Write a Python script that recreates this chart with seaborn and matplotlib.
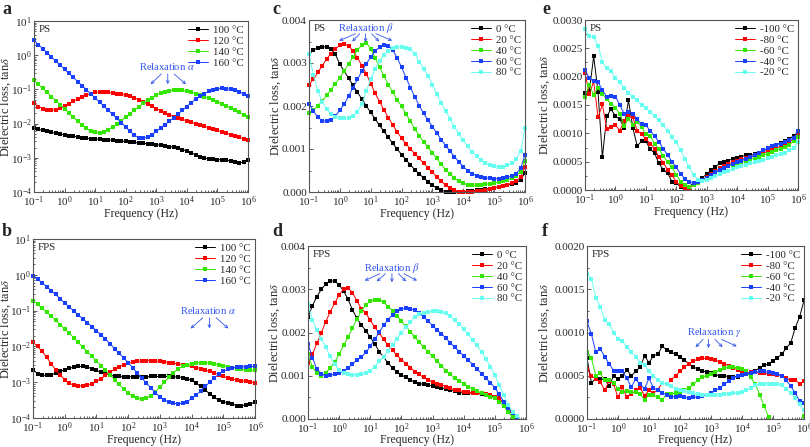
import numpy as np
import matplotlib
matplotlib.use("Agg")
import matplotlib.pyplot as plt
import seaborn as sns
from matplotlib.ticker import LogLocator, NullFormatter, FixedLocator, FormatStrFormatter, AutoMinorLocator

sns.set_style("ticks")
plt.rcParams['font.family'] = ['Liberation Serif', 'DejaVu Serif']
plt.rcParams['mathtext.fontset'] = 'stix'

# frequency grid (Hz): 7 points per decade, 0.1 Hz .. 1 MHz
freq = np.logspace(-1, 6, 50)

# ---------------- panel a : PS, log10(tan d) ----------------
a_labels = ['100 °C', '120 °C', '140 °C', '160 °C']
a_100 = [-2.14, -2.17, -2.20, -2.23, -2.26, -2.28, -2.31, -2.33, -2.35, -2.37,
         -2.39, -2.41, -2.43, -2.44, -2.45, -2.46, -2.47, -2.48, -2.49, -2.50,
         -2.51, -2.52, -2.53, -2.55, -2.57, -2.58, -2.59, -2.60, -2.62, -2.63,
         -2.65, -2.67, -2.69, -2.72, -2.76, -2.80, -2.85, -2.91, -2.97, -3.01,
         -3.03, -3.04, -3.05, -3.06, -3.07, -3.09, -3.12, -3.14, -3.13, -3.06]
a_120 = [-1.41, -1.50, -1.56, -1.59, -1.60, -1.59, -1.55, -1.49, -1.42, -1.35,
         -1.28, -1.21, -1.16, -1.12, -1.09, -1.08, -1.08, -1.09, -1.10, -1.12,
         -1.14, -1.17, -1.20, -1.25, -1.30, -1.36, -1.43, -1.49, -1.56, -1.62,
         -1.68, -1.74, -1.80, -1.84, -1.88, -1.92, -1.96, -2.00, -2.04, -2.08,
         -2.12, -2.16, -2.20, -2.24, -2.28, -2.32, -2.36, -2.40, -2.44, -2.48]
a_140 = [-0.73, -0.85, -0.97, -1.09, -1.21, -1.33, -1.45, -1.57, -1.69, -1.81,
         -1.93, -2.04, -2.14, -2.22, -2.26, -2.27, -2.24, -2.18, -2.10, -2.01,
         -1.91, -1.81, -1.71, -1.61, -1.50, -1.41, -1.32, -1.24, -1.17, -1.11,
         -1.07, -1.04, -1.02, -1.02, -1.03, -1.05, -1.08, -1.12, -1.16, -1.21,
         -1.26, -1.31, -1.36, -1.42, -1.48, -1.54, -1.60, -1.67, -1.74, -1.82]
a_160 = [0.43, 0.31, 0.19, 0.07, -0.05, -0.17, -0.29, -0.41, -0.53, -0.65,
         -0.77, -0.89, -1.01, -1.13, -1.25, -1.37, -1.49, -1.61, -1.73, -1.85,
         -1.97, -2.10, -2.23, -2.34, -2.41, -2.43, -2.39, -2.32, -2.23, -2.13,
         -2.03, -1.93, -1.83, -1.72, -1.61, -1.50, -1.39, -1.29, -1.20, -1.12,
         -1.06, -1.01, -0.98, -0.97, -0.98, -1.00, -1.03, -1.07, -1.12, -1.18]

# ---------------- panel b : FPS, log10(tan d) ----------------
b_labels = ['100 °C', '120 °C', '140 °C', '160 °C']
b_100 = [-2.66, -2.76, -2.80, -2.81, -2.79, -2.75, -2.70, -2.65, -2.61, -2.58,
         -2.56, -2.56, -2.58, -2.62, -2.67, -2.72, -2.77, -2.80, -2.83, -2.84,
         -2.85, -2.85, -2.85, -2.85, -2.85, -2.85, -2.84, -2.84, -2.84, -2.84,
         -2.84, -2.85, -2.85, -2.87, -2.90, -2.95, -3.03, -3.12, -3.22, -3.32,
         -3.42, -3.50, -3.55, -3.57, -3.60, -3.66, -3.66, -3.63, -3.62, -3.54]
b_120 = [-1.88, -2.00, -2.14, -2.30, -2.48, -2.65, -2.80, -2.93, -3.03, -3.08,
         -3.10, -3.10, -3.08, -3.04, -2.98, -2.90, -2.81, -2.72, -2.64, -2.57,
         -2.51, -2.47, -2.44, -2.42, -2.41, -2.40, -2.40, -2.41, -2.42, -2.43,
         -2.45, -2.47, -2.49, -2.51, -2.53, -2.56, -2.59, -2.62, -2.66, -2.70,
         -2.74, -2.79, -2.84, -2.88, -2.91, -2.94, -2.96, -2.98, -3.00, -3.01]
b_140 = [-0.72, -0.82, -0.93, -1.04, -1.15, -1.27, -1.39, -1.51, -1.63, -1.76,
         -1.89, -2.02, -2.15, -2.28, -2.41, -2.54, -2.67, -2.80, -2.93, -3.06,
         -3.19, -3.30, -3.39, -3.45, -3.47, -3.45, -3.38, -3.27, -3.14, -3.00,
         -2.86, -2.73, -2.63, -2.56, -2.51, -2.48, -2.46, -2.45, -2.45, -2.46,
         -2.48, -2.51, -2.54, -2.57, -2.60, -2.62, -2.64, -2.65, -2.66, -2.66]
b_160 = [-0.03, -0.12, -0.22, -0.33, -0.44, -0.55, -0.67, -0.79, -0.90, -1.01,
         -1.12, -1.23, -1.34, -1.45, -1.56, -1.68, -1.80, -1.93, -2.06, -2.19,
         -2.32, -2.45, -2.60, -2.74, -2.88, -3.02, -3.16, -3.29, -3.41, -3.50,
         -3.56, -3.59, -3.60, -3.59, -3.55, -3.45, -3.36, -3.25, -3.12, -3.00,
         -2.88, -2.78, -2.70, -2.64, -2.60, -2.58, -2.57, -2.57, -2.56, -2.56]

# ---------------- panel c : PS, tan d x 1e-3 ----------------
c_labels = ['0 °C', '20 °C', '40 °C', '60 °C', '80 °C']
c_0 = [3.20, 3.30, 3.36, 3.38, 3.37, 3.33, 3.20, 2.97, 2.81, 2.64,
       2.48, 2.32, 2.16, 2.00, 1.85, 1.70, 1.55, 1.41, 1.27, 1.13,
       1.00, 0.87, 0.75, 0.63, 0.52, 0.42, 0.33, 0.24, 0.16, 0.09,
       0.04, 0.01, 0.00, 0.00, 0.00, 0.01, 0.02, 0.03, 0.04, 0.05,
       0.07, 0.08, 0.10, 0.12, 0.14, 0.16, 0.19, 0.22, 0.28, 0.45]
c_20 = [2.50, 2.62, 2.78, 2.94, 3.09, 3.22, 3.33, 3.41, 3.44, 3.40,
        3.28, 3.12, 2.94, 2.75, 2.52, 2.30, 2.10, 1.91, 1.73, 1.56,
        1.40, 1.25, 1.12, 1.00, 0.89, 0.78, 0.67, 0.56, 0.46, 0.35,
        0.25, 0.16, 0.09, 0.04, 0.01, 0.00, 0.00, 0.01, 0.02, 0.03,
        0.05, 0.07, 0.09, 0.11, 0.14, 0.17, 0.21, 0.26, 0.34, 0.58]
c_40 = [1.84, 1.90, 2.00, 2.12, 2.25, 2.38, 2.52, 2.66, 2.82, 2.98,
        3.14, 3.30, 3.42, 3.47, 3.33, 3.12, 2.90, 2.70, 2.50, 2.32,
        2.15, 1.99, 1.82, 1.64, 1.47, 1.31, 1.17, 1.04, 0.91, 0.78,
        0.64, 0.52, 0.42, 0.33, 0.25, 0.20, 0.17, 0.16, 0.16, 0.17,
        0.18, 0.19, 0.21, 0.23, 0.25, 0.28, 0.33, 0.38, 0.47, 0.72]
c_60 = [2.05, 1.88, 1.74, 1.66, 1.64, 1.68, 1.77, 1.90, 2.05, 2.23,
        2.43, 2.62, 2.81, 2.98, 3.14, 3.27, 3.37, 3.42, 3.40, 3.30,
        3.12, 2.90, 2.66, 2.43, 2.21, 2.01, 1.83, 1.67, 1.52, 1.37,
        1.22, 1.08, 0.95, 0.82, 0.70, 0.59, 0.50, 0.43, 0.38, 0.35,
        0.33, 0.32, 0.31, 0.31, 0.32, 0.34, 0.37, 0.43, 0.55, 0.86]
c_80 = [3.20, 2.72, 2.35, 2.10, 1.93, 1.82, 1.75, 1.72, 1.71, 1.72,
        1.76, 1.86, 2.05, 2.35, 2.62, 2.87, 3.05, 3.18, 3.28, 3.34,
        3.37, 3.37, 3.36, 3.33, 3.20, 3.03, 2.87, 2.70, 2.50, 2.29,
        2.08, 1.88, 1.70, 1.52, 1.35, 1.20, 1.06, 0.94, 0.84, 0.75,
        0.68, 0.63, 0.60, 0.58, 0.59, 0.62, 0.67, 0.76, 0.95, 1.48]

# ---------------- panel d : FPS, tan d x 1e-3 ----------------
d_labels = ['0 °C', '20 °C', '40 °C', '60 °C', '80 °C']
d_0 = [2.35, 2.62, 2.83, 3.00, 3.12, 3.19, 3.19, 3.10, 2.96, 2.77,
       2.52, 2.33, 2.17, 2.04, 1.89, 1.74, 1.56, 1.43, 1.29, 1.18,
       1.09, 1.02, 0.96, 0.90, 0.85, 0.82, 0.80, 0.78, 0.76, 0.74,
       0.72, 0.70, 0.66, 0.65, 0.61, 0.60, 0.60, 0.60, 0.59, 0.58,
       0.56, 0.53, 0.49, 0.47, 0.36, 0.22, 0.10, 0.02, -0.05, -0.20]
d_20 = [1.30, 1.50, 1.75, 2.00, 2.25, 2.48, 2.68, 2.87, 3.00, 3.03,
        2.92, 2.73, 2.55, 2.45, 2.28, 2.12, 1.99, 1.84, 1.71, 1.59,
        1.47, 1.37, 1.28, 1.19, 1.09, 1.03, 0.96, 0.90, 0.86, 0.82,
        0.79, 0.75, 0.71, 0.67, 0.66, 0.63, 0.62, 0.61, 0.60, 0.59,
        0.57, 0.56, 0.52, 0.48, 0.37, 0.24, 0.12, 0.03, -0.08, -0.20]
d_40 = [1.50, 1.20, 1.06, 1.00, 1.07, 1.18, 1.32, 1.50, 1.70, 1.90,
        2.10, 2.32, 2.50, 2.64, 2.72, 2.76, 2.76, 2.70, 2.60, 2.50,
        2.38, 2.26, 2.14, 2.02, 1.90, 1.78, 1.66, 1.55, 1.45, 1.35,
        1.23, 1.12, 1.03, 0.95, 0.88, 0.82, 0.75, 0.70, 0.65, 0.60,
        0.56, 0.52, 0.48, 0.40, 0.30, 0.16, 0.04, -0.10, -0.20, -0.30]
d_60 = [1.74, 1.42, 1.15, 1.05, 0.99, 1.01, 1.04, 1.07, 1.11, 1.17,
        1.27, 1.37, 1.44, 1.54, 1.68, 1.84, 2.01, 2.17, 2.30, 2.41,
        2.49, 2.54, 2.56, 2.55, 2.51, 2.45, 2.36, 2.26, 2.16, 2.06,
        1.97, 1.87, 1.76, 1.66, 1.56, 1.46, 1.36, 1.26, 1.16, 1.05,
        0.94, 0.84, 0.72, 0.57, 0.40, 0.26, 0.14, 0.05, -0.05, -0.20]
d_80 = [2.66, 2.30, 2.05, 1.85, 1.66, 1.45, 1.27, 1.13, 1.06, 1.03,
        1.02, 1.02, 1.03, 1.06, 1.12, 1.21, 1.33, 1.44, 1.58, 1.72,
        1.86, 1.99, 2.12, 2.24, 2.35, 2.42, 2.46, 2.48, 2.49, 2.49,
        2.47, 2.44, 2.37, 2.29, 2.19, 2.08, 1.96, 1.83, 1.70, 1.55,
        1.39, 1.21, 1.02, 0.78, 0.55, 0.33, 0.17, 0.08, -0.05, -0.20]

# ---------------- panel e : PS, tan d x 1e-3 ----------------
e_labels = ['-100 °C', '-80 °C', '-60 °C', '-40 °C', '-20 °C']
e_m100 = [1.72, 1.75, 2.36, 1.73, 0.58, 1.30, 1.43, 1.30, 1.25, 1.10,
          1.58, 1.10, 0.78, 0.86, 0.86, 0.72, 0.65, 0.47, 0.36, 0.30,
          0.15, 0.13, 0.05, 0.01, 0.06, 0.13, 0.16, 0.22, 0.28, 0.35,
          0.41, 0.47, 0.50, 0.52, 0.55, 0.57, 0.59, 0.61, 0.61, 0.63,
          0.66, 0.69, 0.72, 0.75, 0.80, 0.83, 0.86, 0.90, 0.96, 1.02]
e_m80 = [2.07, 1.69, 1.92, 1.28, 1.51, 1.08, 1.12, 1.15, 1.05, 1.22,
         1.31, 1.28, 1.05, 0.99, 0.90, 0.82, 0.73, 0.58, 0.48, 0.36,
         0.26, 0.15, 0.07, 0.03, 0.03, 0.09, 0.13, 0.17, 0.23, 0.28,
         0.33, 0.38, 0.42, 0.46, 0.49, 0.52, 0.54, 0.56, 0.58, 0.60,
         0.62, 0.65, 0.68, 0.71, 0.74, 0.77, 0.80, 0.84, 0.90, 0.98]
e_m60 = [1.65, 1.85, 1.68, 1.80, 1.70, 1.60, 1.52, 1.45, 1.35, 1.13,
         1.25, 1.15, 1.20, 1.12, 0.98, 0.95, 0.82, 0.72, 0.60, 0.50,
         0.40, 0.27, 0.15, 0.09, 0.06, 0.08, 0.12, 0.17, 0.22, 0.27,
         0.31, 0.35, 0.39, 0.42, 0.45, 0.48, 0.50, 0.52, 0.54, 0.56,
         0.58, 0.61, 0.64, 0.67, 0.70, 0.73, 0.76, 0.80, 0.86, 0.93]
e_m40 = [2.12, 1.97, 1.92, 1.91, 1.76, 1.65, 1.66, 1.65, 1.50, 1.35,
         1.38, 1.35, 1.25, 1.16, 1.14, 1.05, 0.95, 0.85, 0.73, 0.62,
         0.50, 0.40, 0.28, 0.20, 0.14, 0.13, 0.15, 0.18, 0.22, 0.27,
         0.31, 0.35, 0.39, 0.43, 0.46, 0.49, 0.52, 0.55, 0.58, 0.61,
         0.65, 0.70, 0.74, 0.78, 0.80, 0.82, 0.85, 0.88, 0.92, 1.04]
e_m20 = [2.85, 2.72, 2.70, 2.55, 2.26, 2.15, 2.10, 1.97, 1.90, 1.80,
         1.72, 1.65, 1.58, 1.50, 1.44, 1.38, 1.30, 1.23, 1.14, 1.04,
         0.94, 0.84, 0.70, 0.55, 0.40, 0.27, 0.18, 0.16, 0.18, 0.21,
         0.25, 0.28, 0.31, 0.34, 0.37, 0.40, 0.43, 0.45, 0.47, 0.49,
         0.51, 0.53, 0.56, 0.59, 0.61, 0.63, 0.66, 0.70, 0.74, 0.85]

# ---------------- panel f : FPS, tan d x 1e-3 ----------------
f_labels = ['-100 °C', '-80 °C', '-60 °C', '-40 °C', '-20 °C']
f_m100 = [0.70, 0.42, 0.47, 0.46, 0.46, 0.38, 0.50, 0.46, 0.50, 0.57,
          0.50, 0.55, 0.60, 0.73, 0.65, 0.73, 0.75, 0.84, 0.80, 0.77,
          0.75, 0.72, 0.68, 0.64, 0.60, 0.58, 0.56, 0.54, 0.53, 0.51,
          0.50, 0.50, 0.49, 0.49, 0.49, 0.51, 0.52, 0.54, 0.56, 0.59,
          0.62, 0.64, 0.67, 0.71, 0.75, 0.82, 0.88, 1.05, 1.18, 1.37]
f_m80 = [0.58, 0.50, 0.46, 0.43, 0.33, 0.44, 0.40, 0.25, 0.37, 0.25,
         0.29, 0.33, 0.36, 0.27, 0.33, 0.30, 0.34, 0.42, 0.40, 0.45,
         0.50, 0.55, 0.60, 0.64, 0.67, 0.69, 0.70, 0.70, 0.69, 0.68,
         0.66, 0.64, 0.61, 0.59, 0.57, 0.55, 0.54, 0.54, 0.54, 0.53,
         0.53, 0.52, 0.52, 0.51, 0.50, 0.47, 0.45, 0.45, 0.41, 0.44]
f_m60 = [0.78, 0.70, 0.50, 0.53, 0.45, 0.45, 0.42, 0.35, 0.31, 0.32,
         0.31, 0.31, 0.29, 0.22, 0.28, 0.28, 0.25, 0.22, 0.29, 0.29,
         0.30, 0.31, 0.33, 0.36, 0.40, 0.45, 0.48, 0.50, 0.52, 0.54,
         0.57, 0.59, 0.60, 0.60, 0.59, 0.58, 0.55, 0.48, 0.40, 0.28,
         0.15, 0.02, -0.15, -0.25, -0.35, -0.40, -0.40, -0.35, -0.20, 0.04]
f_m40 = [1.13, 0.98, 0.77, 0.81, 0.72, 0.64, 0.56, 0.56, 0.55, 0.47,
         0.37, 0.46, 0.40, 0.35, 0.47, 0.36, 0.33, 0.30, 0.28, 0.26,
         0.26, 0.27, 0.25, 0.24, 0.25, 0.26, 0.27, 0.28, 0.30, 0.33,
         0.36, 0.40, 0.44, 0.47, 0.50, 0.51, 0.52, 0.53, 0.54, 0.55,
         0.55, 0.54, 0.53, 0.52, 0.50, 0.45, 0.38, 0.30, 0.21, 0.18]
f_m20 = [1.68, 1.62, 1.40, 1.30, 1.15, 1.10, 1.00, 0.93, 0.90, 0.83,
         0.78, 0.72, 0.65, 0.62, 0.55, 0.50, 0.45, 0.42, 0.40, 0.38,
         0.35, 0.33, 0.32, 0.31, 0.30, 0.29, 0.28, 0.28, 0.28, 0.28,
         0.28, 0.29, 0.29, 0.30, 0.30, 0.31, 0.33, 0.36, 0.39, 0.40,
         0.41, 0.41, 0.41, 0.41, 0.39, 0.35, 0.30, 0.24, 0.17, 0.10]

colors = ['#000000', '#ff0000', '#33e600', '#1a40ff', '#66fff0']
blue_txt = '#3355ee'

fig = plt.figure(figsize=(8.10, 4.47), dpi=100)
W, H = 810.0, 447.0


def make_panel(px, series, labels, logy, ylim, yticks, yfmt, tag, clip, ylab_right, xlab_top):
    l, r, t, b = px
    ax = fig.add_axes([l / W, 1 - b / H, (r - l) / W, (b - t) / H])
    ax.set_xscale('log')
    if logy:
        ax.set_yscale('log')
    for vals, lab, c in zip(series, labels, colors):
        y = 10 ** np.asarray(vals) if logy else np.asarray(vals) * 1e-3
        sns.lineplot(x=freq, y=y, ax=ax, color=c, marker='s', markersize=3.3,
                     markeredgewidth=0, linewidth=0.7, label=lab, sort=False,
                     estimator=None, clip_on=clip)
    ax.set_xlim(0.1, 1e6)
    ax.set_ylim(*ylim)
    ax.xaxis.set_major_locator(LogLocator(base=10, numticks=20))
    ax.xaxis.set_minor_locator(LogLocator(base=10, subs=np.arange(2, 10), numticks=100))
    ax.xaxis.set_minor_formatter(NullFormatter())
    if logy:
        ax.yaxis.set_major_locator(LogLocator(base=10, numticks=20))
        ax.yaxis.set_minor_locator(LogLocator(base=10, subs=np.arange(2, 10), numticks=100))
        ax.yaxis.set_minor_formatter(NullFormatter())
    else:
        ax.yaxis.set_major_locator(FixedLocator(yticks))
        ax.yaxis.set_major_formatter(FormatStrFormatter(yfmt))
        ax.yaxis.set_minor_locator(AutoMinorLocator(2))
    ax.tick_params(which='both', direction='in', labelsize=8.0, color='#444444', width=0.6)
    ax.tick_params(which='major', length=3)
    ax.tick_params(which='minor', length=1.6)
    ax.tick_params(axis='both', pad=1.5)
    for s in ax.spines.values():
        s.set_color('#555555')
        s.set_linewidth(0.8)
    ax.set_xlabel('Frequency (Hz)', fontsize=8.5)
    ax.set_ylabel(r'Dielectric loss, tan$\delta$', fontsize=8.9)
    # label positions given in figure pixels, converted to axes fraction
    ax.yaxis.set_label_coords((ylab_right - l) / (r - l), 0.5)
    ax.xaxis.set_label_coords(0.5, -(xlab_top - b) / (b - t))
    ax.legend(loc='upper right', frameon=False, fontsize=7.8, handlelength=1.85,
              handletextpad=0.45, labelspacing=0.12, borderaxespad=0.2,
              borderpad=0.2)
    ax.text(0.02, 0.975, tag, transform=ax.transAxes, fontsize=7.8, va='top', ha='left')
    return ax


def relax(ax, text, tx, ty, arrows):
    ax.text(tx, ty, text, transform=ax.transAxes, fontsize=7.6, color=blue_txt,
            ha='center', va='center')
    for (x0, y0, x1, y1) in arrows:
        ax.annotate('', xy=(x1, y1), xytext=(x0, y0), xycoords='axes fraction',
                    textcoords='axes fraction',
                    arrowprops=dict(arrowstyle='->', color=blue_txt, lw=0.6,
                                    shrinkA=0, shrinkB=0, mutation_scale=5))


ax_a = make_panel((34, 248, 21, 192), [a_100, a_120, a_140, a_160], a_labels,
                  True, (1e-4, 10), None, None, 'PS', False, 13, 208)
relax(ax_a, r'Relaxation $\alpha$', 0.62, 0.735,
      [(0.595, 0.69, 0.545, 0.63), (0.625, 0.69, 0.625, 0.63), (0.655, 0.69, 0.71, 0.63)])

ax_b = make_panel((33, 255, 239, 418), [b_100, b_120, b_140, b_160], b_labels,
                  True, (1e-4, 10), None, None, 'FPS', False, 13, 434.5)
relax(ax_b, r'Relaxation $\alpha$', 0.79, 0.60,
      [(0.765, 0.56, 0.71, 0.50), (0.795, 0.56, 0.795, 0.50), (0.825, 0.56, 0.88, 0.50)])

ax_c = make_panel((309, 525, 20, 192), [c_0, c_20, c_40, c_60, c_80], c_labels,
                  False, (0, 0.004), [0, 0.001, 0.002, 0.003, 0.004], '%.3f', 'PS', False, 283, 208)
relax(ax_c, r'Relaxation $\beta$', 0.265, 0.955,
      [(0.215, 0.92, 0.14, 0.88), (0.235, 0.92, 0.20, 0.875), (0.262, 0.92, 0.262, 0.87),
       (0.29, 0.92, 0.325, 0.875), (0.31, 0.92, 0.385, 0.88)])

ax_d = make_panel((308, 526, 246, 419), [d_0, d_20, d_40, d_60, d_80], d_labels,
                  False, (0, 0.004), [0, 0.001, 0.002, 0.003, 0.004], '%.3f', 'FPS', True, 282, 434.5)
relax(ax_d, r'Relaxation $\beta$', 0.385, 0.875,
      [(0.33, 0.84, 0.26, 0.80), (0.355, 0.84, 0.315, 0.795), (0.385, 0.84, 0.385, 0.79),
       (0.415, 0.84, 0.45, 0.795), (0.44, 0.84, 0.50, 0.80)])

ax_e = make_panel((585, 798, 20, 190), [e_m100, e_m80, e_m60, e_m40, e_m20], e_labels,
                  False, (0, 0.003), [0, 0.0005, 0.001, 0.0015, 0.002, 0.0025, 0.003], '%.4f', 'PS', False, 552, 206)

ax_f = make_panel((587, 804, 246, 419), [f_m100, f_m80, f_m60, f_m40, f_m20], f_labels,
                  False, (0, 0.002), [0, 0.0005, 0.001, 0.0015, 0.002], '%.4f', 'FPS', True, 552, 434.5)
relax(ax_f, r'Relaxation $\gamma$', 0.585, 0.50,
      [(0.535, 0.46, 0.50, 0.415), (0.56, 0.46, 0.56, 0.41), (0.59, 0.46, 0.625, 0.415),
       (0.62, 0.46, 0.69, 0.42)])

for letter, x, y in [('a', 2, 1), ('c', 272, 1), ('e', 542, 1),
                     ('b', 2, 223), ('d', 272, 223), ('f', 542, 223)]:
    fig.text(x / W, 1 - y / H, letter, fontsize=13, fontweight='bold', va='top', ha='left')

fig.savefig('out.png', dpi=100)
